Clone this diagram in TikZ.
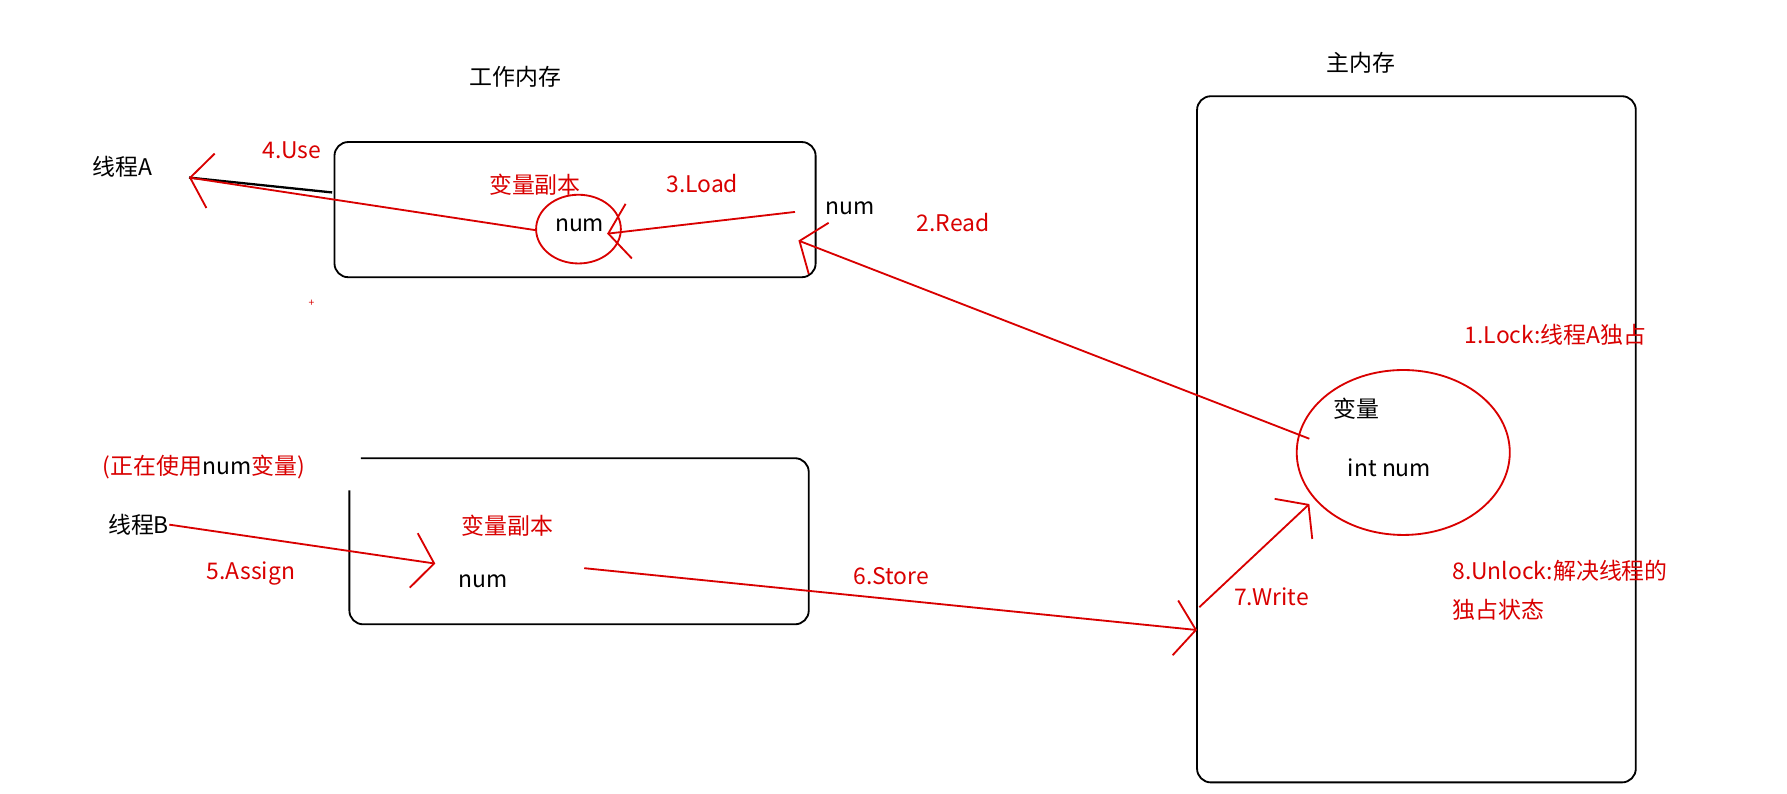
\documentclass[tikz,border=0pt]{standalone}
\usepackage{fontspec}
\setmainfont{Noto Sans CJK SC}
\usetikzlibrary{arrows.meta}
\begin{document}
\begin{tikzpicture}[x=1pt,y=-1pt,font=\fontsize{20}{24}\selectfont]
\tikzstyle{txt} = [inner sep=0pt] % black text
\tikzstyle{rtxt} = [inner sep=0pt, text=red!85!black] % red text
\tikzstyle{redline} = [draw=red!85!black, line width=1.6pt] % red strokes
\tikzstyle{redarrow} = [redline, -{Straight Barb[length=18pt,width=48pt,line width=1.6pt]}]
\tikzstyle{memory} = [draw, line width=1.6pt, rounded corners=12pt]

\useasboundingbox[fill=white] (0,0) rectangle (1560,693);

% boxes
\draw[memory] (292,124) rectangle (712,242);
\draw[memory] (315,400) -- (706,400) -- (706,545) -- (305,545) -- (305,428);
\draw[memory] (1045,84) rectangle (1428,683);

% headings
\node[txt] (work) at (450,67) {工作内存};
\node[txt] (main) at (1188,55) {主内存};

% thread A
\node[txt] (ta) at (107,146) {线程A};
\coordinate (taend) at (165,155);
\draw[line width=2pt] (taend) -- (290,168);
\node[rtxt] (use) at (255,131) {4.Use};
\node[rtxt] (copya) at (467,161) {变量副本};
\node[rtxt] (load) at (613,160) {3.Load};
\node[txt] (numr) at (742,182) {num};
\node[rtxt] (read) at (832,194) {2.Read};
\draw[redline] (505,200) ellipse[x radius=37, y radius=30];
\node[txt] (numa) at (506,197) {num};
\coordinate (loadstart) at (694,185);
\draw[redarrow] (loadstart) -- (530,204);
\draw[redarrow] (468,201) -- (taend);

% main memory
\draw[redline] (1225,395) ellipse[x radius=93, y radius=72];
\node[txt] (var) at (1184,357) {变量};
\node[txt] (intnum) at (1213,408) {int num};
\node[rtxt] (lock) at (1358,292) {1.Lock:线程A独占};
\coordinate (readtip) at (697,210);
\draw[redarrow] (1143,383) -- (readtip);

% thread B
\node[rtxt] (busy) at (178,408) {(正在使用\textcolor{black}{num}变量)};
\node[txt] (tb) at (121,458) {线程B};
\node[rtxt] (assign) at (219,501) {5.Assign};
\node[rtxt] (copyb) at (443,459) {变量副本};
\node[txt] (numb) at (422,507) {num};
\draw[redarrow] (tb.east) -- (380,492);
\node[rtxt] (store) at (778,503) {6.Store};
\coordinate (storetip) at (1045,550);
\draw[redarrow] (510,496) -- (storetip);
\node[rtxt] (write) at (1110,521) {7.Write};
\draw[redarrow] (1047,530) -- (1143,440);
\node[rtxt, anchor=west] (unlock) at (1268,498) {8.Unlock:解决线程的};
\node[rtxt, anchor=west] (state) at (1268,532) {独占状态};
\node[rtxt, font=\small] (plus) at (272,265) {+};
\end{tikzpicture}
\end{document}
